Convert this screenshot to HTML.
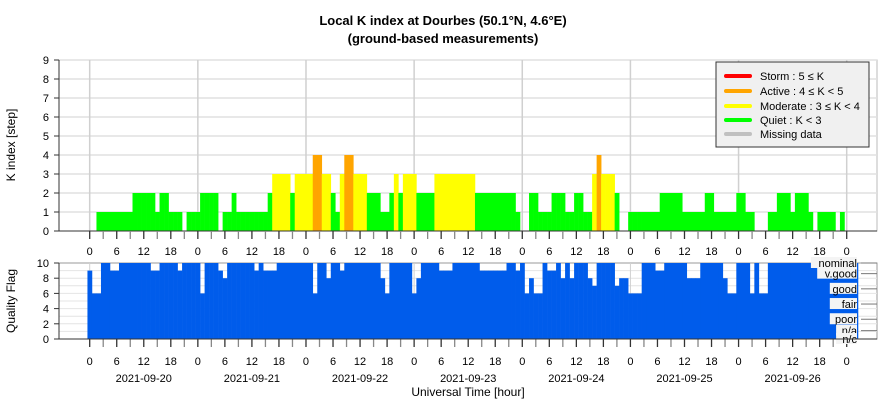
<!DOCTYPE html>
<html><head><meta charset="utf-8"><style>
body{margin:0;background:#fff;}
svg{display:block;font-family:"Liberation Sans",Arial,sans-serif;}
</style></head><body>
<svg id="c" width="886" height="400" viewBox="0 0 886 400" xmlns="http://www.w3.org/2000/svg">
<text x="443" y="25" text-anchor="middle" font-size="13" font-weight="bold">Local K index at Dourbes (50.1°N, 4.6°E)</text>
<text x="443" y="43" text-anchor="middle" font-size="13" font-weight="bold">(ground-based measurements)</text>
<g id="gtop"></g>
<g id="gbot"></g>
<text transform="translate(15,145) rotate(-90)" text-anchor="middle" font-size="12">K index [step]</text>
<text transform="translate(15,301) rotate(-90)" text-anchor="middle" font-size="12">Quality Flag</text>
<text x="468" y="396" text-anchor="middle" font-size="12">Universal Time [hour]</text>
<g>
<rect x="716" y="62" width="153" height="85" fill="#f0f0f0" stroke="#333" stroke-width="1"/>
<line x1="726" y1="76" x2="750" y2="76" stroke="#ff0000" stroke-width="4" stroke-linecap="round"/>
<text x="760" y="80" font-size="11">Storm : 5 ≤ K</text>
<line x1="726" y1="91" x2="750" y2="91" stroke="#ffa500" stroke-width="4" stroke-linecap="round"/>
<text x="760" y="95" font-size="11">Active : 4 ≤ K &lt; 5</text>
<line x1="726" y1="106" x2="750" y2="106" stroke="#ffff00" stroke-width="4" stroke-linecap="round"/>
<text x="760" y="110" font-size="11">Moderate : 3 ≤ K &lt; 4</text>
<line x1="726" y1="120" x2="750" y2="120" stroke="#00ff00" stroke-width="4" stroke-linecap="round"/>
<text x="760" y="124" font-size="11">Quiet : K &lt; 3</text>
<line x1="726" y1="134" x2="750" y2="134" stroke="#c0c0c0" stroke-width="4" stroke-linecap="round"/>
<text x="760" y="138" font-size="11">Missing data</text>
</g>
</svg>
<script>
// Hourly K index (index i covers hour i+0.5..i+1.5 from 2021-09-20 00 UT); null = missing
const kValues = [null,1,1,1,1,1,1,1,1,2,2,2,2,2,1,2,2,1,1,1,null,1,1,1,2,2,2,2,null,1,1,2,1,1,1,1,1,1,1,2,
3,3,3,3,2,3,3,3,3,4,4,3,3,2,1,3,4,4,3,3,3,2,2,2,1,1,2,3,2,3,3,3,2,2,2,2,3,3,3,3,
3,3,3,3,3,2,2,2,2,2,2,2,2,2,1,null,null,2,2,1,1,1,2,2,2,1,1,2,2,1,1,3,4,3,3,3,2,null,null,1,
1,1,1,1,1,1,2,2,2,2,2,1,1,1,1,1,2,2,1,1,1,1,1,2,2,1,1,null,null,null,1,1,2,2,2,1,2,2,2,1,null,1,1,1,1,null,1,null];
// Hourly quality flag, starting at index -1
const qualityStart = -1;
const qualityValues = [9,6,6,10,10,9,9,10,10,10,10,10,10,10,9,9,10,10,10,10,9,10,10,10,10,6,10,10,10,9,8,10,10,10,10,10,10,9,10,9,9,9,
10,10,10,10,10,10,10,10,6,10,10,8,10,10,9,10,10,10,10,10,10,10,10,8,6,10,10,10,10,10,6,8,10,10,10,10,9,9,9,10,10,10,10,10,10,
9,9,9,9,9,9,10,10,9,10,6,8,6,6,10,9,9,10,8,10,8,10,10,10,8,7,10,10,10,10,7,8,8,6,6,6,10,10,10,9,9,10,10,10,10,10,8,8,8,10,10,10,10,10,
8,6,6,10,10,10,6,10,6,6,10,10,10,10,10,10,10,10,10,10,10,10,10,10,10,10,10,10,10,10];
const kTicks = [0,1,2,3,4,5,6,7,8,9];
const qTicks = [0,2,4,6,8,10];
const hourLabels = ["0","6","12","18"];
const dates = ["2021-09-20","2021-09-21","2021-09-22","2021-09-23","2021-09-24","2021-09-25","2021-09-26"];
const qualLabels = [["nominal",10],["v.good",8.6],["good",6.6],["fair",4.6],["poor",2.6],["n/a",1.1],["n/c",0]];

const NS="http://www.w3.org/2000/svg";
const X0=59,X1=877,DAY0=89.7,PXH=4.506;
const xH=h=>DAY0+h*PXH;
const T={top:60,bot:231,max:9}, B={top:263,bot:339,max:10};
const yK=v=>T.bot-v*(T.bot-T.top)/T.max;
const yQ=v=>B.bot-v*(B.bot-B.top)/B.max;
function mk(tag,attrs,parent){const e=document.createElementNS(NS,tag);for(const k in attrs)e.setAttribute(k,attrs[k]);parent.appendChild(e);return e;}
const gTop=document.getElementById('gtop'), gBot=document.getElementById('gbot');
function kColor(v){return v>=5?'#ff0000':v>=4?'#ffa500':v>=3?'#ffff00':'#00ff00';}

// top plot
mk('rect',{x:X0,y:T.top,width:X1-X0,height:T.bot-T.top,fill:'#fff',stroke:'#bbb'},gTop);
kTicks.forEach(t=>{
  if(t>0){const l=mk('line',{x1:X0,x2:X1,y1:yK(t),y2:yK(t),stroke:'#e0e0e0','stroke-width':1.5},gTop);
  
  }
  mk('line',{x1:X0-5,x2:X0,y1:yK(t),y2:yK(t),stroke:'#333'},gTop);
  const tx=mk('text',{x:X0-10,y:yK(t)+4,'text-anchor':'end','font-size':11},gTop);tx.textContent=t;
  
  
});
for(let d=0;d<=7;d++){mk('line',{x1:xH(d*24),x2:xH(d*24),y1:T.top,y2:T.bot,stroke:'#d0d0d0','stroke-width':1.5},gTop);}
kValues.forEach((v,i)=>{
  if(v===null||v===0)return;
  const r=mk('rect',{x:xH(i+0.5),y:yK(v),width:PXH+0.3,height:yK(0)-yK(v),fill:kColor(v)},gTop);
  
  
});
mk('line',{x1:X0,x2:X0,y1:T.top,y2:T.bot,stroke:'#333'},gTop);
mk('line',{x1:X0,x2:X1,y1:T.bot,y2:T.bot,stroke:'#333'},gTop);

// bottom plot
mk('rect',{x:X0,y:B.top,width:X1-X0,height:B.bot-B.top,fill:'#fff',stroke:'#999'},gBot);
for(let t=1;t<10;t++)mk('line',{x1:X0,x2:X1,y1:yQ(t),y2:yQ(t),stroke:'#e4e4e4'},gBot);
for(let d=0;d<=7;d++)mk('line',{x1:xH(d*24),x2:xH(d*24),y1:B.top,y2:B.bot,stroke:'#d0d0d0','stroke-width':1},gBot);
qualityValues.forEach((v,j)=>{
  const i=j+qualityStart;
  const r=mk('rect',{x:xH(i+0.5),y:yQ(v),width:PXH+0.3,height:yQ(0)-yQ(v),fill:'#005ceb'},gBot);
  
  
});
qTicks.forEach(t=>{
  mk('line',{x1:X0-5,x2:X0,y1:yQ(t),y2:yQ(t),stroke:'#333'},gBot);
  const tx=mk('text',{x:X0-10,y:yQ(t)+4,'text-anchor':'end','font-size':11},gBot);tx.textContent=t;
  
  
});
qualLabels.forEach(([s,v])=>{
  mk('line',{x1:X1-16,x2:X1,y1:yQ(v),y2:yQ(v),stroke:'#777'},gBot);
  const w=s.length*6.3+2;
  mk('rect',{x:857-w,y:yQ(v)-6,width:w,height:11,fill:'#f4f4f4'},gBot);
  const tx=mk('text',{x:857,y:yQ(v)+4,'text-anchor':'end','font-size':11},gBot);tx.textContent=s;
  
  
});
mk('line',{x1:X0,x2:X0,y1:B.top,y2:B.bot,stroke:'#333'},gBot);
mk('line',{x1:X0,x2:X1,y1:B.bot,y2:B.bot,stroke:'#333'},gBot);

// x ticks & labels
for(let h=0;h<=168;h+=3){
  [T.bot,B.bot].forEach(y=>mk('line',{x1:xH(h),x2:xH(h),y1:y,y2:y+8,stroke:h%6==0?'#333':'#888','stroke-width':1.3},gTop));
  if(h%6==0){
    const lab=hourLabels[(h/6)%4];
    [255,365].forEach(y=>{const tx=mk('text',{x:xH(h),y:y,'text-anchor':'middle','font-size':11},gTop);tx.textContent=lab;
    
    });
  }
}
dates.forEach((d,i)=>{const tx=mk('text',{x:xH(i*24+12),y:382,'text-anchor':'middle','font-size':11},gTop);tx.textContent=d;
  
  });
</script>
</body></html>
